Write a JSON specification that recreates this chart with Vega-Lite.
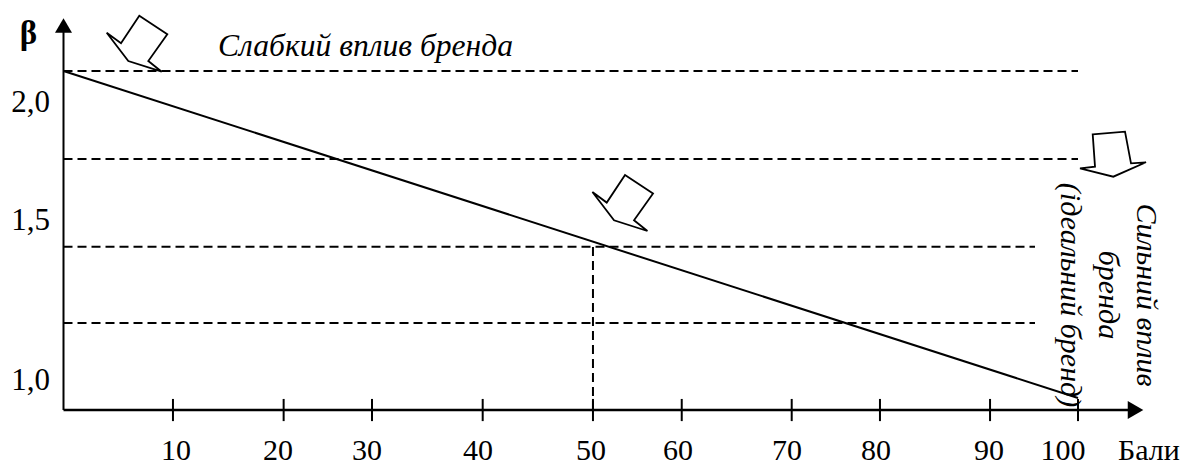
{
  "$schema": "https://vega.github.io/schema/vega-lite/v6.json",
  "width": 1195,
  "height": 467,
  "autosize": {"type": "none"},
  "padding": 0,
  "background": "white",
  "config": {"view": {"stroke": null}, "axis": {"disable": true}, "text": {"font": "Liberation Serif", "fontSize": 30, "color": "black"}},
  "datasets": {
    "hl": [
      {"x1": 0, "x2": 100, "b": 2.112},
      {"x1": 0, "x2": 100, "b": 1.794},
      {"x1": 0, "x2": 95.76, "b": 1.4776},
      {"x1": 0, "x2": 95.76, "b": 1.2022}
    ],
    "vl": [{"x": 52.19, "b1": 0.888, "b2": 1.4776}],
    "trend": [{"x": 0, "b": 2.112}, {"x": 100, "b": 0.9314}],
    "ticks": [
      {"label": "10", "t": 10.79, "lx": 11.09},
      {"label": "20", "t": 21.7, "lx": 21.14},
      {"label": "30", "t": 30.41, "lx": 29.92},
      {"label": "40", "t": 41.32, "lx": 40.85},
      {"label": "50", "t": 52.19, "lx": 52.0},
      {"label": "60", "t": 60.94, "lx": 60.57},
      {"label": "70", "t": 71.78, "lx": 71.31},
      {"label": "80", "t": 80.48, "lx": 80.09},
      {"label": "90", "t": 91.33, "lx": 91.23},
      {"label": "100", "t": 100, "lx": 98.52}
    ],
    "ylabels": [
      {"label": "2,0", "lb": 1.964},
      {"label": "1,5", "lb": 1.538},
      {"label": "1,0", "lb": 0.9603}
    ],
    "arrows": [
      {"kind": "a", "x": 7.472, "b": 2.3116},
      {"kind": "a", "x": 55.35, "b": 1.7365},
      {"kind": "b", "x": 101.45, "b": 1.8834}
    ]
  },
  "layer": [
    {
      "data": {"name": "hl"},
      "mark": {"type": "rule", "strokeDash": [9, 5], "strokeWidth": 2, "color": "black"},
      "encoding": {
        "x": {"field": "x1", "type": "quantitative", "scale": {"domain": [-6.2593, 111.533], "nice": false, "zero": false}, "axis": null},
        "x2": {"field": "x2"},
        "y": {"field": "b", "type": "quantitative", "scale": {"domain": [0.68231, 2.36823], "nice": false, "zero": false}, "axis": null}
      }
    },
    {
      "data": {"name": "vl"},
      "mark": {"type": "rule", "strokeDash": [9, 5], "strokeWidth": 2, "color": "black"},
      "encoding": {
        "x": {"field": "x", "type": "quantitative", "scale": {"domain": [-6.2593, 111.533], "nice": false, "zero": false}, "axis": null},
        "y": {"field": "b1", "type": "quantitative", "scale": {"domain": [0.68231, 2.36823], "nice": false, "zero": false}, "axis": null},
        "y2": {"field": "b2"}
      }
    },
    {
      "data": {"name": "trend"},
      "mark": {"type": "line", "strokeWidth": 2, "color": "black"},
      "encoding": {
        "x": {"field": "x", "type": "quantitative", "scale": {"domain": [-6.2593, 111.533], "nice": false, "zero": false}, "axis": null},
        "y": {"field": "b", "type": "quantitative", "scale": {"domain": [0.68231, 2.36823], "nice": false, "zero": false}, "axis": null}
      }
    },
    {
      "data": {"values": [{}]},
      "mark": {"type": "rule", "strokeWidth": 2, "color": "black"},
      "encoding": {
        "x": {"datum": 0, "type": "quantitative", "scale": {"domain": [-6.2593, 111.533], "nice": false, "zero": false}, "axis": null},
        "y": {"datum": 0.888, "type": "quantitative", "scale": {"domain": [0.68231, 2.36823], "nice": false, "zero": false}, "axis": null},
        "y2": {"datum": 2.27}
      }
    },
    {
      "data": {"values": [{}]},
      "mark": {"type": "rule", "strokeWidth": 2.5, "color": "black"},
      "encoding": {
        "x": {"datum": 0, "type": "quantitative", "scale": {"domain": [-6.2593, 111.533], "nice": false, "zero": false}, "axis": null},
        "x2": {"datum": 105.1},
        "y": {"datum": 0.888, "type": "quantitative", "scale": {"domain": [0.68231, 2.36823], "nice": false, "zero": false}, "axis": null}
      }
    },
    {
      "data": {"values": [{}]},
      "mark": {"type": "point", "shape": "triangle-up", "filled": true, "size": 289, "color": "black", "opacity": 1},
      "encoding": {
        "x": {"datum": 0, "type": "quantitative", "scale": {"domain": [-6.2593, 111.533], "nice": false, "zero": false}, "axis": null},
        "y": {"datum": 2.2762, "type": "quantitative", "scale": {"domain": [0.68231, 2.36823], "nice": false, "zero": false}, "axis": null}
      }
    },
    {
      "data": {"values": [{}]},
      "mark": {"type": "point", "shape": "triangle-right", "filled": true, "size": 324, "color": "black", "opacity": 1},
      "encoding": {
        "x": {"datum": 105.67, "type": "quantitative", "scale": {"domain": [-6.2593, 111.533], "nice": false, "zero": false}, "axis": null},
        "y": {"datum": 0.888, "type": "quantitative", "scale": {"domain": [0.68231, 2.36823], "nice": false, "zero": false}, "axis": null}
      }
    },
    {
      "data": {"name": "ticks"},
      "mark": {"type": "rule", "strokeWidth": 2, "color": "black"},
      "encoding": {
        "x": {"field": "t", "type": "quantitative", "scale": {"domain": [-6.2593, 111.533], "nice": false, "zero": false}, "axis": null},
        "y": {"datum": 0.928, "type": "quantitative", "scale": {"domain": [0.68231, 2.36823], "nice": false, "zero": false}, "axis": null},
        "y2": {"datum": 0.848}
      }
    },
    {
      "data": {"name": "ticks"},
      "mark": {"type": "text", "align": "center", "baseline": "alphabetic"},
      "encoding": {
        "x": {"field": "lx", "type": "quantitative", "scale": {"domain": [-6.2593, 111.533], "nice": false, "zero": false}, "axis": null},
        "y": {"datum": 0.7076, "type": "quantitative", "scale": {"domain": [0.68231, 2.36823], "nice": false, "zero": false}, "axis": null},
        "text": {"field": "label"}
      }
    },
    {
      "data": {"name": "ylabels"},
      "mark": {"type": "text", "align": "right", "baseline": "alphabetic", "fontSize": 31},
      "encoding": {
        "x": {"datum": -1.33, "type": "quantitative", "scale": {"domain": [-6.2593, 111.533], "nice": false, "zero": false}, "axis": null},
        "y": {"field": "lb", "type": "quantitative", "scale": {"domain": [0.68231, 2.36823], "nice": false, "zero": false}, "axis": null},
        "text": {"field": "label"}
      }
    },
    {
      "data": {"values": [{}]},
      "mark": {"type": "text", "text": "β", "align": "center", "baseline": "alphabetic", "fontWeight": "bold", "fontSize": 33},
      "encoding": {
        "x": {"datum": -3.45, "type": "quantitative", "scale": {"domain": [-6.2593, 111.533], "nice": false, "zero": false}, "axis": null},
        "y": {"datum": 2.2094, "type": "quantitative", "scale": {"domain": [0.68231, 2.36823], "nice": false, "zero": false}, "axis": null}
      }
    },
    {
      "data": {"values": [{}]},
      "mark": {"type": "text", "text": "Слабкий вплив бренда", "align": "left", "baseline": "alphabetic", "fontStyle": "italic", "fontSize": 31.6},
      "encoding": {
        "x": {"datum": 15.23, "type": "quantitative", "scale": {"domain": [-6.2593, 111.533], "nice": false, "zero": false}, "axis": null},
        "y": {"datum": 2.1661, "type": "quantitative", "scale": {"domain": [0.68231, 2.36823], "nice": false, "zero": false}, "axis": null}
      }
    },
    {
      "data": {"values": [{}]},
      "mark": {"type": "text", "text": ["Сильний вплив", "бренда", "(ідеальний бренд)"], "angle": 90, "lineHeight": 38, "align": "center", "baseline": "alphabetic", "fontStyle": "italic"},
      "encoding": {
        "x": {"datum": 105.82, "type": "quantitative", "scale": {"domain": [-6.2593, 111.533], "nice": false, "zero": false}, "axis": null},
        "y": {"datum": 1.3032, "type": "quantitative", "scale": {"domain": [0.68231, 2.36823], "nice": false, "zero": false}, "axis": null}
      }
    },
    {
      "data": {"values": [{}]},
      "mark": {"type": "text", "text": "Бали", "align": "left", "baseline": "alphabetic"},
      "encoding": {
        "x": {"datum": 103.94, "type": "quantitative", "scale": {"domain": [-6.2593, 111.533], "nice": false, "zero": false}, "axis": null},
        "y": {"datum": 0.7076, "type": "quantitative", "scale": {"domain": [0.68231, 2.36823], "nice": false, "zero": false}, "axis": null}
      }
    },
    {
      "data": {"name": "arrows"},
      "mark": {"type": "point", "filled": true, "fill": "white", "stroke": "black", "strokeWidth": 1.8, "size": 4, "opacity": 1, "strokeJoin": "miter"},
      "encoding": {
        "x": {"field": "x", "type": "quantitative", "scale": {"domain": [-6.2593, 111.533], "nice": false, "zero": false}, "axis": null},
        "y": {"field": "b", "type": "quantitative", "scale": {"domain": [0.68231, 2.36823], "nice": false, "zero": false}, "axis": null},
        "shape": {"field": "kind", "type": "nominal", "legend": null, "scale": {"domain": ["a", "b"], "range": ["M0,0L28,18.6L9,45.3L22.4,56L-11,45.3L-32.6,17L-18.3,27.6Z", "M0,0L32.3,-2.6L38.3,29L53.3,28L20.6,42.4L-12.7,34L2.3,32.4Z"]}}
      }
    }
  ]
}
